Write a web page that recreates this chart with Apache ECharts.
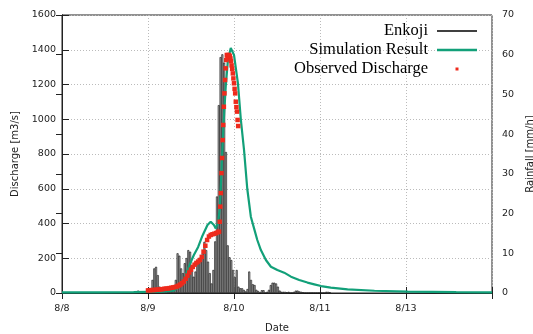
<!DOCTYPE html>
<html>
<head>
<meta charset="utf-8">
<script src="https://cdn.jsdelivr.net/npm/echarts@6/dist/echarts.min.js"></script>
<style>html,body{margin:0;padding:0;background:#fff;}#c{width:533px;height:334px;}</style>
</head>
<body>
<div id="c"></div>
<script>
// x tick labels (x axis in hours from 8/8 00:00, one tick per 24 h)
const xTickLabels = ['8/8', '8/9', '8/10', '8/11', '8/13'];

// Rainfall (Enkoji), mm/h, half-hour bars starting at hour 20.5
const rainStart = 20.5;
const rainStep = 0.5;
const rainfall = [
  0.3, 0.6, 0.3, 0, 0, 0, 0, 0, 0.5, 3.3,
  6.2, 6.6, 4.5, 1.6, 0.8, 0.5, 1.0, 0.6, 0.4, 0.8,
  0.5, 0.9, 3.3, 10, 9.4, 6.2, 5, 7.5, 8.8, 10.8,
  10.4, 7, 4.1, 5.4, 7.5, 7.9, 9.1, 10, 12.9, 10.8,
  7.9, 5, 2.4, 5.8, 13, 24.3, 47.3, 59.4, 60.1, 58,
  35.5, 12, 9, 8.3, 5.8, 4, 5.8, 1.6, 1.2, 1.2,
  0.8, 0.4, 1, 5.4, 3.3, 2.2, 2, 0.8, 0.5, 0,
  0.7, 0.7, 0, 0.3, 0.8, 2, 2.6, 2.6, 2.4, 1.6,
  0.6, 0.3, 0.3, 0.3, 0.2, 0.3, 0, 0, 0.3, 0.6,
  0.6, 0.4, 0.3, 0.2, 0, 0, 0, 0, 0, 0,
  0, 0, 0, 0, 0, 0, 0.3, 0.3, 0.2
];

// Simulation result, discharge m3/s
const simTime = [0, 10, 20, 28, 31.2, 33.1, 34.0, 35.0, 36.4, 36.8, 38.0, 39.2, 40.6, 41.5, 42.4, 42.9, 43.5,
  44.0, 44.3, 44.7, 45.1, 45.7, 46.3, 47.1, 48.0, 49.1, 49.9, 50.8, 51.7, 52.7, 53.6, 54.5, 55.5, 56.9,
  58.3, 60.1, 62.0, 63.9, 66.2, 68.5, 70.4, 72.3, 75.0, 79.7, 87.2, 96.5, 110, 120];
const simFlow = [4, 4, 5, 8, 13, 46, 70, 132, 200, 219, 265, 330, 391, 410, 391, 372, 401,
  480, 600, 800, 980, 1190, 1340, 1410, 1370, 1207, 1000, 823, 600, 439, 372, 305, 247, 190,
  151, 132, 117, 94, 75, 60, 50, 40, 31, 21, 13, 7.5, 5, 4];

// Observed discharge, m3/s
const obsTime = [24, 24.5, 25, 25.5, 26, 26.5, 27, 27.5, 28, 28.5, 29, 29.5, 30, 30.5, 31, 31.5, 32, 32.5,
  33, 33.5, 34, 34.5, 35, 35.5, 36, 36.5, 37, 37.5, 38, 38.5, 39, 39.5, 40, 40.5, 41, 41.5, 42, 42.5, 43, 43.5,
  43.83, 44, 44.17, 44.33, 44.5, 44.67, 44.83, 45, 45.17, 45.33, 45.5, 45.67, 45.83, 46, 46.17, 46.33, 46.5,
  46.67, 46.83, 47, 47.17, 47.33, 47.5, 47.67, 47.83, 48, 48.17, 48.33, 48.5, 48.67, 48.83, 49, 49.17];
const obsFlow = [15, 16, 17, 17, 18, 19, 20, 21, 22, 24, 25, 26, 28, 30, 32, 34, 37, 42,
  48, 56, 66, 82, 100, 118, 134, 150, 163, 173, 181, 190, 208, 238, 272, 305, 325, 334, 338, 341, 345, 350,
  353, 410, 497, 575, 690, 777, 880, 967, 1072, 1149, 1226, 1293, 1341, 1370, 1362, 1368, 1370,
  1368, 1362, 1350, 1335, 1310, 1290, 1264, 1235, 1207, 1175, 1149, 1101, 1070, 1044, 996, 961];

const rainData = rainfall.map((v, i) => [rainStart + i * rainStep + rainStep / 2, v]);
const simData = simTime.map((t, i) => [t, simFlow[i]]);
const obsData = obsTime.map((t, i) => [t, obsFlow[i]]);

const labelFont = { fontFamily: 'DejaVu Sans', fontSize: 9.5, color: '#222' };
const legendText = { fontFamily: 'Liberation Serif', fontSize: 16.5, color: '#000', lineHeight: 18 };
const green = '#12a079';
const red = '#ee2a1c';

const chart = echarts.init(document.getElementById('c'), null, { renderer: 'canvas' });
chart.setOption({
  animation: false,
  backgroundColor: '#fff',
  grid: { left: 62, right: 41, top: 15, bottom: 41, show: true, borderColor: '#222', borderWidth: 1,
    containLabel: false, outerBoundsMode: 'none' },
  legend: [
    { data: [{ name: 'Enkoji', icon: 'rect', itemStyle: { color: '#000', borderWidth: 0 } }],
      right: 56, top: 22, orient: 'vertical', align: 'right', padding: 0, selectedMode: false,
      itemWidth: 40, itemHeight: 1.3, textStyle: Object.assign({ padding: [0, 4, 0, 0] }, legendText) },
    { data: [{ name: 'Simulation Result', icon: 'rect', itemStyle: { color: green, borderWidth: 0 } }],
      right: 56, top: 41, orient: 'vertical', align: 'right', padding: 0, selectedMode: false,
      itemWidth: 40, itemHeight: 2.5, textStyle: Object.assign({ padding: [0, 4, 0, 0] }, legendText) },
    { data: [{ name: 'Observed Discharge', icon: 'rect', itemStyle: { color: red, borderWidth: 0 } }],
      right: 74.5, top: 60, orient: 'vertical', align: 'right', padding: 0, selectedMode: false,
      itemWidth: 3, itemHeight: 3, textStyle: Object.assign({ padding: [0, 22.5, 0, 0] }, legendText) }
  ],
  xAxis: [
    { type: 'value', min: 0, max: 120, interval: 24, position: 'bottom',
      name: 'Date', nameLocation: 'middle', nameGap: 30,
      nameTextStyle: { fontFamily: 'DejaVu Sans', fontSize: 10, color: '#222' },
      axisLine: { show: true, lineStyle: { color: '#222', width: 1 } },
      axisTick: { show: true, inside: true, length: 6, lineStyle: { color: '#222' } },
      axisLabel: Object.assign({ margin: 11, formatter: v => xTickLabels[Math.round(v / 24)] || '' }, labelFont),
      splitLine: { show: true, lineStyle: { color: '#bbb', type: [1, 2], width: 1 } } },
    { type: 'value', min: 0, max: 120, interval: 24, position: 'top',
      axisLine: { show: false },
      axisTick: { show: true, inside: true, length: 6, lineStyle: { color: '#222' } },
      axisLabel: { show: false }, splitLine: { show: false } }
  ],
  yAxis: [
    { type: 'value', min: 0, max: 1600, interval: 200, position: 'left',
      name: 'Discharge [m3/s]', nameLocation: 'middle', nameGap: 42, nameRotate: 90,
      nameTextStyle: { fontFamily: 'DejaVu Sans', fontSize: 10, color: '#222' },
      axisLine: { show: true, lineStyle: { color: '#222', width: 1 } },
      axisTick: { show: true, inside: true, length: 7, lineStyle: { color: '#222' } },
      axisLabel: Object.assign({ margin: 6, formatter: v => String(v) }, labelFont),
      splitLine: { show: true, lineStyle: { color: '#bbb', type: [1, 2], width: 1 } } },
    { type: 'value', min: 0, max: 70, interval: 10, position: 'right',
      name: 'Rainfall [mm/h]', nameLocation: 'middle', nameGap: 32, nameRotate: 90,
      nameTextStyle: { fontFamily: 'DejaVu Sans', fontSize: 10, color: '#222' },
      axisLine: { show: true, lineStyle: { color: '#222', width: 1 } },
      axisTick: { show: true, inside: true, length: 6, lineStyle: { color: '#222' } },
      axisLabel: Object.assign({ margin: 10, formatter: v => String(v) }, labelFont),
      splitLine: { show: false } }
  ],
  series: [
    { name: 'Enkoji', type: 'bar', xAxisIndex: 0, yAxisIndex: 1, data: rainData, barWidth: 2,
      itemStyle: { color: '#a8a8a8', borderColor: '#111', borderWidth: 0.6 }, z: 1, silent: true },
    { name: 'Simulation Result', type: 'line', xAxisIndex: 0, yAxisIndex: 0, data: simData,
      showSymbol: false, symbol: 'none', smooth: false, lineStyle: { color: green, width: 2.2 },
      itemStyle: { color: green }, z: 2, silent: true },
    { name: 'Observed Discharge', type: 'scatter', xAxisIndex: 0, yAxisIndex: 0, data: obsData,
      symbol: 'rect', symbolSize: 4.5, itemStyle: { color: red, opacity: 1 }, z: 3, silent: true }
  ]
});
</script>
</body>
</html>
